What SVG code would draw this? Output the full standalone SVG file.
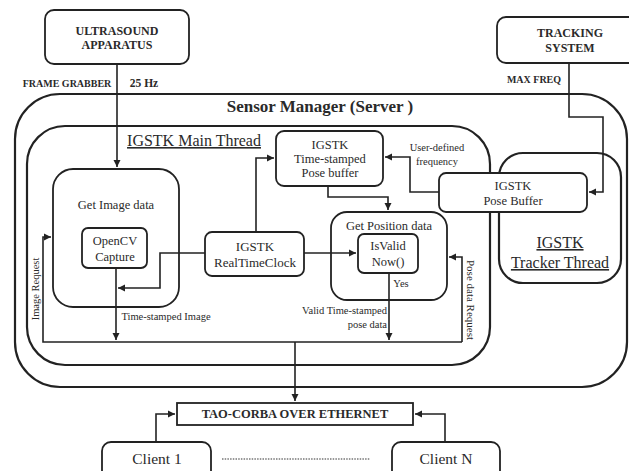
<svg xmlns="http://www.w3.org/2000/svg" width="629" height="471" viewBox="0 0 629 471">
<style>
  .box{fill:#fff;stroke:#222;stroke-width:1.8}
  .cont{fill:none;stroke:#222;stroke-width:2.2}
  .t{font-family:"Liberation Serif","Times New Roman",serif;fill:#2a2a2a;text-anchor:middle}
  .b{font-weight:bold}
  .c{fill:none;stroke:#222;stroke-width:1.6}
</style>
<defs>
  <marker id="ar" markerWidth="8" markerHeight="8" refX="7" refY="4" orient="auto" markerUnits="userSpaceOnUse">
    <path d="M0,0.5 L7,4 L0,7.5 Z" fill="#222"/>
  </marker>
</defs>
<rect width="629" height="471" fill="#fff"/>

<g id="sensor-manager">
  <rect class="cont" x="15" y="94" width="612" height="293" rx="45"/>
  <text class="t b" x="320" y="112" font-size="17">Sensor Manager (Server )</text>
</g>
<g id="main-thread">
  <rect class="cont" x="27" y="126" width="463" height="239" rx="38"/>
  <text class="t" x="194" y="146" font-size="16" text-decoration="underline">IGSTK Main Thread</text>
</g>
<g id="tracker-thread">
  <rect class="cont" x="499" y="153" width="122" height="130" rx="24"/>
  <text class="t" x="560" y="248" font-size="16" text-decoration="underline">IGSTK</text>
  <text class="t" x="560" y="268" font-size="16" text-decoration="underline">Tracker Thread</text>
</g>
<g id="get-image">
  <rect class="cont" style="stroke-width:1.8" x="53" y="169" width="126" height="138" rx="20"/>
  <text class="t" x="116" y="209" font-size="12.5">Get Image data</text>
</g>
<g id="get-position">
  <rect class="cont" style="stroke-width:1.8" x="331" y="212" width="116" height="88" rx="16"/>
  <text class="t" x="389" y="230" font-size="12.5">Get Position data</text>
</g>

<g id="connectors">
  <path class="c" d="M117 64 V167" marker-end="url(#ar)"/>
  <path class="c" d="M569 63 V117 H603 V192 H589" marker-end="url(#ar)"/>
  <path class="c" d="M439 192 H410 V157 H385" marker-end="url(#ar)"/>
  <path class="c" d="M256 232 V158 H274" marker-end="url(#ar)"/>
  <path class="c" d="M328 186 V197 H388 V210" marker-end="url(#ar)"/>
  <path class="c" d="M304 253 H356" marker-end="url(#ar)"/>
  <path class="c" d="M205 253 H160 V288 H118" marker-end="url(#ar)"/>
  <path class="c" d="M116 268 V340" marker-end="url(#ar)"/>
  <path class="c" d="M389 273 V340" marker-end="url(#ar)"/>
  <path class="c" d="M462 342 H43 V237 H51" marker-end="url(#ar)"/>
  <path class="c" d="M462 342 V257 H449" marker-end="url(#ar)"/>
  <path class="c" d="M295 342 V401" marker-end="url(#ar)"/>
  <path class="c" d="M156 442 V414 H175" marker-end="url(#ar)"/>
  <path class="c" d="M445 442 V414 H415" marker-end="url(#ar)"/>
  <path d="M222 459 H370" stroke="#333" stroke-width="1.2" stroke-dasharray="1.5 1.2" fill="none"/>
  <text class="t b" x="67" y="87" font-size="10">FRAME GRABBER</text>
  <text class="t b" x="144" y="87" font-size="11.5">25 Hz</text>
  <text class="t b" x="534" y="83" font-size="10">MAX FREQ</text>
  <text class="t" x="437" y="151" font-size="10.5">User-defined</text>
  <text class="t" x="437" y="165" font-size="10.5">frequency</text>
  <text class="t" x="166" y="320" font-size="10.5">Time-stamped Image</text>
  <text class="t" x="387" y="314" font-size="10.5" text-anchor="end" style="text-anchor:end">Valid Time-stamped</text>
  <text class="t" x="387" y="328" font-size="10.5" style="text-anchor:end">pose data</text>
  <text class="t" x="401" y="287" font-size="10.5">Yes</text>
  <text class="t" font-size="10.5" transform="translate(39,289) rotate(-90)">Image Request</text>
  <text class="t" font-size="11" transform="translate(467,300) rotate(90)">Pose data Request</text>
</g>

<g id="ultrasound">
  <rect class="box" x="45" y="10" width="144" height="54" rx="9"/>
  <text class="t b" x="117" y="35" font-size="12">ULTRASOUND</text>
  <text class="t b" x="117" y="49" font-size="12">APPARATUS</text>
</g>
<g id="tracking-system">
  <rect class="box" x="497" y="17" width="150" height="46" rx="9"/>
  <text class="t b" x="570" y="37" font-size="12">TRACKING</text>
  <text class="t b" x="570" y="52" font-size="12">SYSTEM</text>
</g>
<g id="pose-buffer">
  <rect class="box" x="439" y="173" width="148" height="39" rx="7"/>
  <text class="t" x="513" y="190" font-size="12.5">IGSTK</text>
  <text class="t" x="513" y="205" font-size="12.5">Pose Buffer</text>
</g>
<g id="timestamped-buffer">
  <rect class="box" x="276" y="131" width="107" height="55" rx="8"/>
  <text class="t" x="330" y="149" font-size="12.5">IGSTK</text>
  <text class="t" x="330" y="163" font-size="12.5">Time-stamped</text>
  <text class="t" x="330" y="177" font-size="12.5">Pose buffer</text>
</g>
<g id="realtimeclock">
  <rect class="box" x="205" y="232" width="99" height="44" rx="7"/>
  <text class="t" x="255" y="251" font-size="13">IGSTK</text>
  <text class="t" x="255" y="267" font-size="13">RealTimeClock</text>
</g>
<g id="opencv">
  <rect class="box" x="82" y="228" width="65" height="40" rx="6"/>
  <text class="t" x="115" y="245" font-size="12.5">OpenCV</text>
  <text class="t" x="115" y="261" font-size="12.5">Capture</text>
</g>
<g id="isvalid">
  <rect class="box" x="358" y="234" width="60" height="39" rx="6"/>
  <text class="t" x="388" y="250" font-size="12.5">IsValid</text>
  <text class="t" x="388" y="266" font-size="12.5">Now()</text>
</g>
<g id="tao-corba">
  <rect class="box" x="177" y="403" width="236" height="22" rx="0"/>
  <text class="t b" x="295" y="418" font-size="12.5">TAO-CORBA OVER ETHERNET</text>
</g>
<g id="client-1">
  <rect class="box" x="102" y="442" width="109" height="40" rx="9"/>
  <text class="t" x="157" y="464" font-size="15.5">Client 1</text>
</g>
<g id="client-n">
  <rect class="box" x="392" y="442" width="108" height="40" rx="9"/>
  <text class="t" x="446" y="464" font-size="15.5">Client N</text>
</g>
</svg>
